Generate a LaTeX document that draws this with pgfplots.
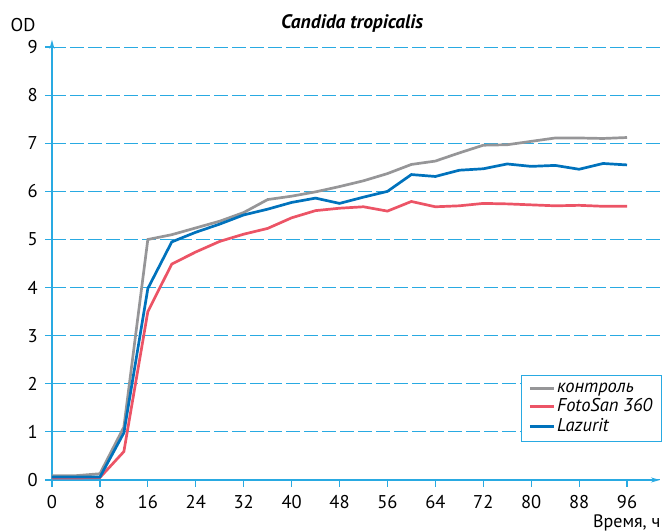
\documentclass[border=0pt]{standalone}
\usepackage{fontspec}
\setmainfont{PT Sans}
\usepackage{pgfplots}
\pgfplotsset{compat=1.18}
\usetikzlibrary{arrows.meta}

\definecolor{axblue}{RGB}{41,170,226}
\definecolor{ctrlgray}{RGB}{150,150,152}
\definecolor{fotored}{RGB}{236,84,102}
\definecolor{lazblue}{RGB}{0,114,188}

\begin{document}
\fontsize{18.5}{21}\selectfont
\begin{tikzpicture}
\begin{axis}[
  x=5.99pt, y=48.1pt,
  xmin=0, xmax=101.5, ymin=0, ymax=9.15,
  axis lines=left,
  axis line style={axblue, line width=1.2pt, -{Stealth[length=9pt,width=5pt]}},
  xtick={0,8,...,96}, ytick={0,...,9},
  tick style={axblue, line width=1.2pt},
  tick align=outside, major tick length=7pt,
  ymajorgrids,
  grid style={axblue, line width=1pt, dash pattern=on 14pt off 4pt},
  tick label style={font=\fontsize{18.5}{21}\selectfont},
  /pgf/number format/assume math mode=true,
  xticklabel style={yshift=-1.5pt},
  yticklabel style={xshift=-1pt},
  clip=false,
  legend cell align=left,
  legend style={draw=axblue, line width=1pt, at={(1.003,0.086)}, anchor=south east,
    font=\itshape\fontsize{18.5}{20}\selectfont, inner xsep=7pt, inner ysep=5pt, row sep=0pt},
  legend image code/.code={\draw[#1] (0pt,0pt) -- (24pt,0pt);},
]
\addplot[ctrlgray, line width=2.7pt] coordinates {
 (0,0.09) (4,0.09) (8,0.13) (12,1.10) (16,5.00) (20,5.10) (24,5.24) (28,5.38)
 (32,5.56) (36,5.83) (40,5.90) (44,5.99) (48,6.10) (52,6.22) (56,6.37) (60,6.56)
 (64,6.63) (68,6.80) (72,6.96) (76,6.97) (80,7.04) (84,7.11) (88,7.11) (92,7.10) (96,7.12)
};
\addlegendentry{контроль}
\addplot[fotored, line width=2.7pt] coordinates {
 (0,0.04) (4,0.04) (8,0.05) (12,0.59) (16,3.50) (20,4.49) (24,4.74) (28,4.96)
 (32,5.11) (36,5.23) (40,5.45) (44,5.60) (48,5.65) (52,5.68) (56,5.59) (60,5.79)
 (64,5.68) (68,5.70) (72,5.75) (76,5.74) (80,5.72) (84,5.70) (88,5.71) (92,5.69) (96,5.69)
};
\addlegendentry{FotoSan 360}
\addplot[lazblue, line width=2.7pt] coordinates {
 (0,0.06) (4,0.06) (8,0.06) (12,0.98) (16,3.98) (20,4.95) (24,5.15) (28,5.32)
 (32,5.51) (36,5.63) (40,5.77) (44,5.86) (48,5.75) (52,5.88) (56,6.00) (60,6.35)
 (64,6.31) (68,6.44) (72,6.47) (76,6.57) (80,6.52) (84,6.54) (88,6.46) (92,6.58) (96,6.55)
};
\addlegendentry{Lazurit}
\node[font=\bfseries\itshape\fontsize{19.5}{22}\selectfont] at (axis cs:50.1,9.5) {Candida tropicalis};
\node at (axis cs:-4.84,9.46) {OD};
\node[anchor=south east, inner sep=0pt, font=\fontsize{18}{20}\selectfont] at (axis cs:101.6,-1.065) {Время, ч};
\coordinate (bl) at (axis cs:-8.68,-1.081);
\coordinate (tr) at (axis cs:101.84,9.979);
\end{axis}
\pgfresetboundingbox
\path[use as bounding box] (bl) rectangle (tr);
\end{tikzpicture}
\end{document}
